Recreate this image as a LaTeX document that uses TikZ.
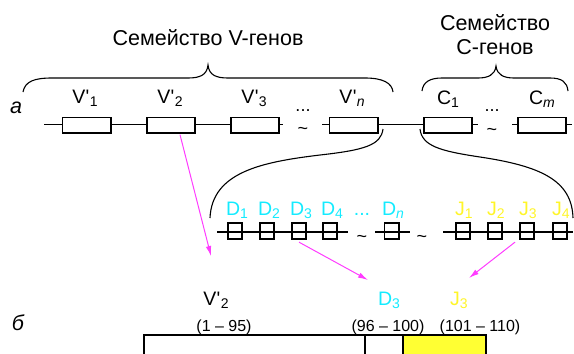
\documentclass[tikz,border=0pt]{standalone}
\usepackage{fontspec}
\setmainfont{Liberation Sans}
\usetikzlibrary{arrows.meta,calc}
\definecolor{mag}{RGB}{255,60,255}
\definecolor{cy}{RGB}{20,235,255}
\definecolor{ye}{RGB}{255,245,40}
\definecolor{barye}{RGB}{255,255,51}
\newcommand{\sbs}[1]{\raisebox{-0.35ex}{\fontsize{14}{14}\selectfont #1}}
\newcommand{\vpr}[1]{V\kern0.02em\textquotesingle\kern0.02em\sbs{#1}}
\begin{document}
\begin{tikzpicture}[x=1pt,y=-1pt,
  every node/.style={inner sep=0pt, outer sep=0pt},
  vbox/.style={draw, line width=1.7pt, fill=white, minimum width=48.3pt, minimum height=15.3pt},
  dbox/.style={draw, line width=1.7pt, minimum width=14.3pt, minimum height=16.3pt},
  chrom/.style={line width=1.6pt},
  brc/.style={line width=1.1pt},
  lab/.style={anchor=base, font=\fontsize{19.5}{22}\selectfont},
  bigtxt/.style={anchor=base, font=\fontsize{21.5}{24}\selectfont},
  smalltxt/.style={anchor=base, font=\fontsize{16}{18}\selectfont},
  tl/.style={anchor=base, font=\fontsize{18}{18}\selectfont},
  arr/.style={mag, line width=1pt, -{Latex[length=10pt,width=5.5pt]}},
  ]
\useasboundingbox (0,0) rectangle (574,354);
\clip (0,0) rectangle (574,354);

% titles
\node[bigtxt] (tv) at (208,45) {Семейство V-генов};
\node[bigtxt] (tc1) at (495,30) {Семейство};
\node[bigtxt] (tc2) at (495,54) {С-генов};
\node[bigtxt, font=\fontsize{21.5}{24}\selectfont\itshape] (la) at (16,113) {а};
\node[bigtxt, font=\fontsize{21.5}{24}\selectfont\itshape] (lb) at (18,330) {б};

% braces
\draw[brc] (23,92) .. controls (25,81) and (35,78) .. (52,78) -- (188,78)
  .. controls (200,78) and (207,75) .. (208,65)
  .. controls (209,75) and (216,78) .. (228,78) -- (365,78)
  .. controls (383,78) and (392,83) .. (393,92);
\draw[brc] (422,91) .. controls (423,82) and (430,78) .. (442,78) -- (478,78)
  .. controls (488,78) and (495,75) .. (496,66)
  .. controls (497,75) and (504,78) .. (514,78) -- (550,78)
  .. controls (562,78) and (567,82) .. (568,91);

% chromosome V/C
\coordinate (a1) at (44,124.5);
\coordinate (a2) at (283,124.5);
\coordinate (a3) at (322,124.5);
\coordinate (a4) at (478,124.5);
\coordinate (a5) at (512,124.5);
\coordinate (a6) at (572,124.5);
\draw[chrom] (a1) -- (a2);
\draw[chrom] (a3) -- (a4);
\draw[chrom] (a5) -- (a6);
\node[vbox] (v1) at (86.5,125) {};
\node[vbox] (v2) at (171,125) {};
\node[vbox] (v3) at (255,125) {};
\node[vbox] (vn) at (353.5,125) {};
\node[vbox] (c1) at (448,125) {};
\node[vbox] (cm) at (542,125) {};

\node[lab] (lv1) at (85,103) {\vpr{1}};
\node[lab] (lv2) at (170,103) {\vpr{2}};
\node[lab] (lv3) at (254,103) {\vpr{3}};
\node[lab] (lvn) at (352,103) {\vpr{\itshape n}};
\node[lab] (lc1) at (448,104) {C\sbs{1}};
\node[lab] (lcm) at (542,104) {C\sbs{\itshape m}};
\node[tl] (dt1) at (303,111) {...};
\node[tl] (tt1) at (303,134) {\textasciitilde};
\node[tl] (dt2) at (492,111) {...};
\node[tl] (tt2) at (492,135) {\textasciitilde};

% expansion curves
\coordinate (e1) at (383,129);
\coordinate (e2) at (210,218);
\coordinate (e3) at (420,129);
\coordinate (e4) at (573,218);
\draw[brc] (e2) .. controls (212,172) and (262,162) .. (320,155)
  .. controls (365,150) and (381,145) .. (e1);
\draw[brc] (e3) .. controls (422,146) and (440,151) .. (480,157)
  .. controls (540,166) and (572,180) .. (e4);

% D-J chromosome
\coordinate (b1) at (217,232);
\coordinate (b2) at (348,232);
\coordinate (b3) at (375,232);
\coordinate (b4) at (410,232);
\coordinate (b5) at (443,232);
\coordinate (b6) at (573,232);
\draw[chrom] (b1) -- (b2);
\draw[chrom] (b3) -- (b4);
\draw[chrom] (b5) -- (b6);
\node[dbox] (d1) at (235,231) {};
\node[dbox] (d2) at (267,231) {};
\node[dbox] (d3) at (299,231) {};
\node[dbox] (d4) at (330,231) {};
\node[dbox] (dn) at (391.5,231) {};
\node[dbox] (j1) at (463,231) {};
\node[dbox] (j2) at (495,231) {};
\node[dbox] (j3) at (527,231) {};
\node[dbox] (j4) at (560,231) {};
\node[tl] (tt3) at (362,242) {\textasciitilde};
\node[tl] (tt4) at (422,242) {\textasciitilde};

\node[lab, cy] (ld1) at (237,215) {D\sbs{1}};
\node[lab, cy] (ld2) at (269,215) {D\sbs{2}};
\node[lab, cy] (ld3) at (301,215) {D\sbs{3}};
\node[lab, cy] (ld4) at (332,215) {D\sbs{4}};
\node[lab, cy] (ldd) at (362,215) {...};
\node[lab, cy] (ldn) at (393,215) {D\sbs{\itshape n}};
\node[lab, ye] (lj1) at (464,215) {J\sbs{1}};
\node[lab, ye] (lj2) at (496,215) {J\sbs{2}};
\node[lab, ye] (lj3) at (528,215) {J\sbs{3}};
\node[lab, ye] (lj4) at (561,215) {J\sbs{4}};

% result
\node[lab] (rv) at (216,305) {\vpr{2}};
\node[lab, cy] (rd) at (389,305) {D\sbs{3}};
\node[lab, ye] (rj) at (459,305) {J\sbs{3}};
\node[smalltxt] (nv) at (224,331) {(1 – 95)};
\node[smalltxt] (nd) at (388,331) {(96 – 100)};
\node[smalltxt] (nj) at (480,331) {(101 – 110)};

\coordinate (av) at (211,256);
\coordinate (ad) at (368,280);
\coordinate (aj) at (469,278);
\draw[arr] ($(v2.south)+(9,2)$) -- (av);
\draw[arr] ($(d3.south)+(0,3)$) -- (ad);
\draw[arr] ($(j3.south)+(-12,3)$) -- (aj);

% bar
\fill[barye] (403,335) rectangle (486,360);
\draw[line width=1.5pt] (144,335) rectangle (486,360);
\draw[line width=1.5pt] (365,335) -- (365,360);
\draw[line width=1.5pt] (403,335) -- (403,360);
\end{tikzpicture}
\end{document}
